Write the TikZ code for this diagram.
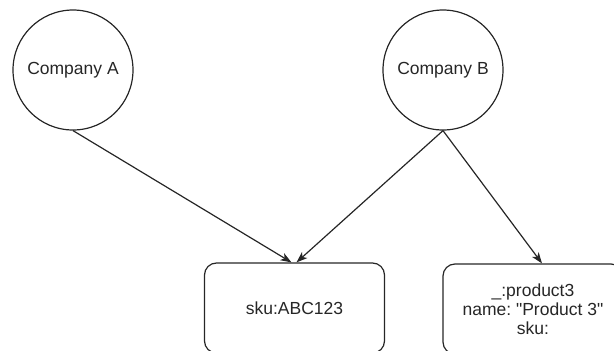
\documentclass[tikz,border=0pt]{standalone}
\usepackage{fontspec}
\setmainfont{Liberation Sans}
\usetikzlibrary{arrows.meta}
\frenchspacing
\begin{document}
\begin{tikzpicture}[x=1pt,y=-1pt,
  every node/.style={font=\fontsize{17.5}{19}\selectfont, text=black!85},
  company/.style={circle, draw=black!85, line width=1.2pt, minimum size=120pt, inner sep=0pt},
  record/.style={rectangle, rounded corners=12pt, draw=black!85, line width=1.2pt,
    minimum width=180pt, minimum height=90pt, align=center, inner sep=0pt},
  link/.style={draw=black!85, line width=1.2pt, -{Stealth[length=11pt,width=8pt,inset=3pt]}}]
  \useasboundingbox (0,0) rectangle (614,351);
  \begin{scope}
    \clip (0,0) rectangle (614,351);
    \node[company] (A) at (73,70) {Company A};
    \node[company] (B) at (443,70) {Company B};
    \node[record] (P1) at (294.5,308) {sku:ABC123};
    \node[record] (P2) at (533,309) {\_:product3\\name: \textquotedbl Product 3\textquotedbl\\sku:};
    \draw[link] (A.south) -- ([xshift=-3pt]P1.north);
    \draw[link] (B.south) -- ([xshift=2pt]P1.north);
    \draw[link] (B.south) -- ([xshift=9pt]P2.north);
  \end{scope}
\end{tikzpicture}
\end{document}
